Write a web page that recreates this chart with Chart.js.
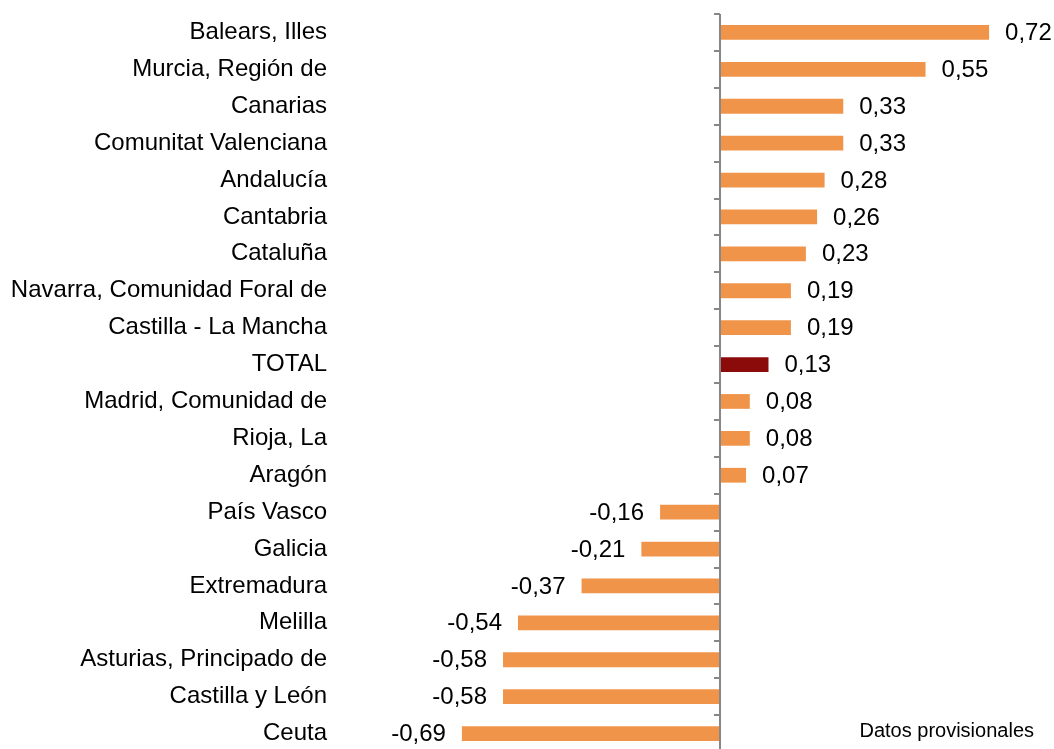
<!DOCTYPE html>
<html>
<head>
<meta charset="utf-8">
<script src="https://cdn.jsdelivr.net/npm/chart.js@4.4.1/dist/chart.umd.min.js"></script>
<style>
  html, body { margin: 0; padding: 0; background: #ffffff; overflow: hidden; }
  #wrap { position: relative; width: 1054px; height: 753px; }
</style>
</head>
<body>
<div id="wrap"><canvas id="c"></canvas></div>
<script>
const categories = [
  "Balears, Illes", "Murcia, Región de", "Canarias", "Comunitat Valenciana",
  "Andalucía", "Cantabria", "Cataluña", "Navarra, Comunidad Foral de",
  "Castilla - La Mancha", "TOTAL", "Madrid, Comunidad de", "Rioja, La",
  "Aragón", "País Vasco", "Galicia", "Extremadura", "Melilla",
  "Asturias, Principado de", "Castilla y León", "Ceuta"
];
const values = [
  0.72, 0.55, 0.33, 0.33, 0.28, 0.26, 0.23, 0.19, 0.19, 0.13,
  0.08, 0.08, 0.07, -0.16, -0.21, -0.37, -0.54, -0.58, -0.58, -0.69
];
const highlightCategory = "TOTAL";
const footnote = "Datos provisionales";

const ORANGE = "#F0944A";
const DARKRED = "#8B0A0A";
const AXIS = "#878787";
const FONT = "'Liberation Sans', Arial, sans-serif";

const barColors = categories.map(c => c === highlightCategory ? DARKRED : ORANGE);

const zeroAxisPlugin = {
  id: "zeroAxis",
  afterDatasetsDraw(chart) {
    const ctx = chart.ctx;
    const xs = chart.scales.x, ys = chart.scales.y;
    const x0 = Math.round(xs.getPixelForValue(0));
    const top = chart.chartArea.top, bottom = chart.chartArea.bottom;
    ctx.save();
    ctx.strokeStyle = AXIS;
    ctx.lineWidth = 2;
    ctx.beginPath();
    ctx.moveTo(x0, top);
    ctx.lineTo(x0, bottom);
    ctx.stroke();
    const n = categories.length;
    const half = (ys.getPixelForValue(1) - ys.getPixelForValue(0)) / 2;
    for (let i = 0; i <= n; i++) {
      const y = Math.round(ys.getPixelForValue(i) - half);
      ctx.beginPath();
      ctx.moveTo(x0 - 6, y);
      ctx.lineTo(x0, y);
      ctx.stroke();
    }
    ctx.restore();
  }
};

const valueLabelPlugin = {
  id: "valueLabels",
  afterDatasetsDraw(chart) {
    const ctx = chart.ctx;
    const meta = chart.getDatasetMeta(0);
    ctx.save();
    ctx.font = "24px " + FONT;
    ctx.fillStyle = "#000000";
    ctx.textBaseline = "middle";
    meta.data.forEach((bar, i) => {
      const v = values[i];
      const txt = v.toFixed(2).replace(".", ",");
      if (v >= 0) {
        ctx.textAlign = "left";
        ctx.fillText(txt, bar.x + 16, bar.y + 1);
      } else {
        ctx.textAlign = "right";
        ctx.fillText(txt, bar.x - 16, bar.y + 1);
      }
    });
    ctx.font = "20px " + FONT;
    ctx.textAlign = "right";
    ctx.fillText(footnote, chart.width - 20, 731);
    ctx.restore();
  }
};

new Chart(document.getElementById("c"), {
  type: "bar",
  data: {
    labels: categories,
    datasets: [{
      data: values,
      backgroundColor: barColors,
      borderWidth: 0,
      categoryPercentage: 1.0,
      barPercentage: 0.4
    }]
  },
  options: {
    indexAxis: "y",
    responsive: true,
    maintainAspectRatio: false,
    animation: false,
    layout: { padding: { top: 14, right: 35, bottom: 1, left: 0 } },
    plugins: {
      legend: { display: false },
      tooltip: { enabled: false },
      title: { display: false }
    },
    scales: {
      x: {
        display: false,
        min: -1,
        max: 0.8
      },
      y: {
        position: "left",
        grid: { display: false, drawTicks: false },
        border: { display: false },
        ticks: {
          padding: 19,
          color: "#000000",
          font: { family: FONT, size: 24 },
          autoSkip: false
        },
        afterFit(scale) {
          scale.width = 346;
          scale.paddingTop = 0;
          scale.paddingBottom = 0;
        }
      }
    }
  },
  plugins: [zeroAxisPlugin, valueLabelPlugin]
});
</script>
</body>
</html>
